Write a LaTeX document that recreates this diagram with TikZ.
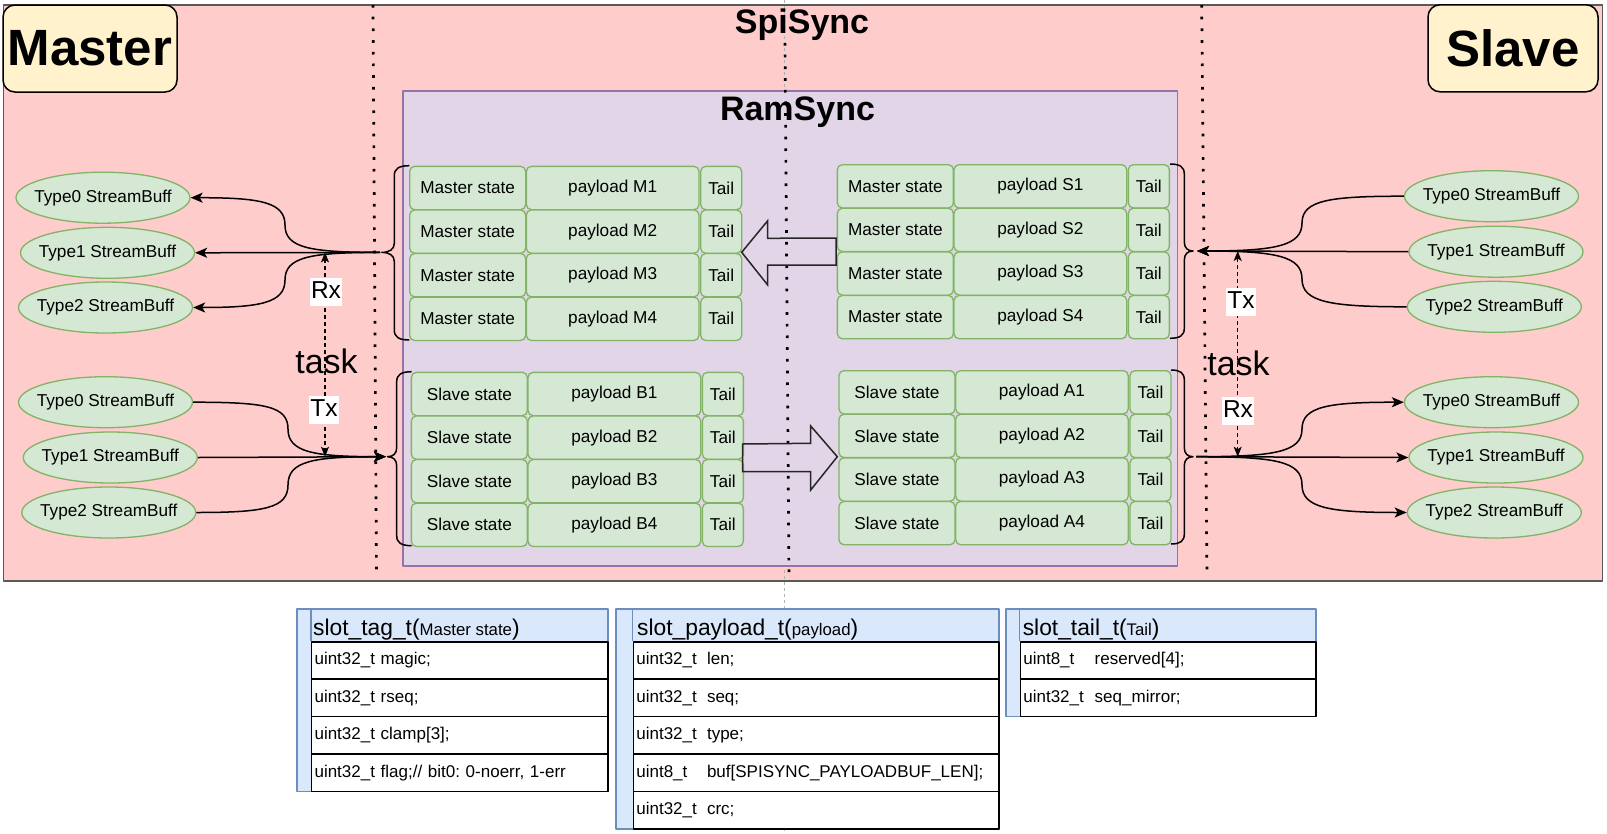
\documentclass[tikz,border=0pt]{standalone}
\usepackage{fontspec}
\setmainfont{Liberation Sans}
\usetikzlibrary{arrows.meta,shapes.geometric}
\frenchspacing
\definecolor{pinkbg}{HTML}{FFCCCC}
\definecolor{pinkbd}{HTML}{595959}
\definecolor{yel}{HTML}{FFF2CC}
\definecolor{purp}{HTML}{E1D5E7}
\definecolor{purpbd}{HTML}{9673A6}
\definecolor{grn}{HTML}{D5E8D4}
\definecolor{grnbd}{HTML}{82B366}
\definecolor{blu}{HTML}{DAE8FC}
\definecolor{blubd}{HTML}{6C8EBF}
\newcommand\myfs[1]{\fontsize{#1pt}{#1pt}\selectfont}
\tikzset{
  cell/.style={draw=grnbd, fill=grn, line width=1.3pt, rounded corners=5pt, minimum height=43.3pt, inner sep=0pt, font=\myfs{17.2}, anchor=north west},
  ell/.style={ellipse, draw=grnbd, fill=grn, line width=1.3pt, minimum width=174pt, minimum height=51pt, inner sep=0pt},
  elltext/.style={font=\myfs{17.2}, inner sep=0pt},
  conn/.style={line width=1.5pt, draw=black},
  arrowend/.style={-{Stealth[length=12pt,width=10pt,inset=3pt]}},
  dotline/.style={line width=2.7pt, dash pattern=on 2.7pt off 9pt},
  bracestyle/.style={line width=1.5pt, draw=black},
  blockarr/.style={draw=black!85, line width=1.5pt, line join=miter},
  hdrbox/.style={draw=black, fill=yel, rounded corners=12pt, line width=1.5pt, font=\bfseries\myfs{51}, inner sep=0pt},
  dashconn/.style={line width=1.3pt, dash pattern=on 4pt off 3pt, {Stealth[length=10pt,width=8pt,inset=2.5pt]}-{Stealth[length=10pt,width=8pt,inset=2.5pt]}},
  lbl/.style={fill=white, inner sep=1.5pt, font=\myfs{24.5}, text height=19pt, text depth=6pt},
  tasklbl/.style={font=\myfs{34}, inner sep=0pt, anchor=base},
  tabframe/.style={draw=blubd, fill=blu, line width=1.5pt, anchor=north west, inner sep=0pt},
  tabrow/.style={draw=black, fill=white, line width=1.5pt, anchor=north west, inner xsep=3pt, inner ysep=0pt, align=left, font=\myfs{17}, minimum height=37.4pt},
  tabhead/.style={anchor=base west, inner sep=0pt, font=\myfs{22.8}}
}
\newcommand\cellgroup[5]{%
  \foreach \i in {1,...,4}{%
    \node[cell, minimum width=116pt] (#1s\i) at (#2, {#3+43.6*(\i-1)}) {#4};
    \node[cell, minimum width=172.6pt] (#1p\i) at ({#2+116.7}, {#3+43.6*(\i-1)}) {payload #5\i};
    \node[cell, minimum width=41pt] (#1t\i) at ({#2+291}, {#3+43.6*(\i-1)}) {Tail};
  }}
% stream buffer ellipse: #1 name, #2 x, #3 y, #4 text
\newcommand\sbuf[4]{%
  \node[ell, label={[elltext]center:#4}] (#1) at (#2,#3) {};}
% brace: #1 xend, #2 xvertical, #3 xtip, #4 ytop, #5 ytip, #6 ybottom
\newcommand\curlybr[6]{%
  \draw[bracestyle] (#1,#4) .. controls ({#2+0.3*(#1-#2)},#4) and (#2,{#4+3}) .. (#2,{#4+10})
    -- (#2,{#5-9}) .. controls (#2,{#5-3}) and ({#2+0.4*(#3-#2)},#5) .. (#3,#5)
    .. controls ({#2+0.4*(#3-#2)},#5) and (#2,{#5+3}) .. (#2,{#5+9})
    -- (#2,{#6-10}) .. controls (#2,{#6-3}) and ({#2+0.3*(#1-#2)},#6) .. (#1,#6);}
\begin{document}
\begin{tikzpicture}[x=1pt,y=-1pt,line join=round]
\useasboundingbox (0,0) rectangle (1607,833);
% background regions
\node[draw=pinkbd, fill=pinkbg, line width=1.5pt, anchor=north west, minimum width=1599pt, minimum height=576pt, inner sep=0pt] (spibox) at (2.7,4) {};
\draw[gray!60, line width=0.8pt, dash pattern=on 3pt off 3pt] (784,0) -- (784,833);
\node[draw=purpbd, fill=purp, line width=1.5pt, anchor=north west, minimum width=774.5pt, minimum height=475pt, inner sep=0pt] (ramsyncbox) at (402,90) {};
% dotted separators
\draw[dotline] (373,5) -- (376.5,578);
\draw[dotline] (785,43) -- (789,580);
\draw[dotline] (1201.7,5) -- (1207,578);
% titles
\node[hdrbox, minimum width=174pt, minimum height=87pt] (master) at (90,48.5) {Master};
\node[hdrbox, minimum width=170pt, minimum height=87pt] (slave) at (1513,48.3) {Slave};
\node[anchor=base, font=\bfseries\myfs{34}, inner sep=0pt] (spisync) at (802,33) {SpiSync};
\node[anchor=base, font=\bfseries\myfs{34}, inner sep=0pt] (ramsync) at (797.5,120) {RamSync};
% slot groups
\cellgroup{lt}{409}{165.7}{Master state}{M}
\cellgroup{lb}{410.7}{371.7}{Slave state}{B}
\cellgroup{rt}{836.7}{164}{Master state}{S}
\cellgroup{rb}{838.3}{370}{Slave state}{A}
% braces
\curlybr{409.3}{394.3}{381.7}{165.7}{252.4}{340}
\curlybr{411.7}{396.7}{387.5}{371.7}{456.7}{545.7}
\curlybr{1170}{1184.3}{1193}{164}{251}{338.3}
\curlybr{1171}{1184.3}{1193}{370}{456.7}{544}
% block arrows
\draw[blockarr] (836,238) -- (767.7,238.3) -- (767.7,220.7) -- (741.7,252.3) -- (767.7,285) -- (767.7,265) -- (836,265) -- cycle;
\draw[blockarr] (742.7,444) -- (810.7,443.3) -- (810.7,426) -- (837.3,456.7) -- (810.7,490) -- (810.7,471.7) -- (742.7,471.7) -- cycle;
% ellipses left
\sbuf{lt0}{103}{197.7}{Type0 StreamBuff}
\sbuf{lt1}{107.5}{252.8}{Type1 StreamBuff}
\sbuf{lt2}{105.5}{307.5}{Type2 StreamBuff}
\sbuf{lb0}{105.5}{402.2}{Type0 StreamBuff}
\sbuf{lb1}{110.3}{457.5}{Type1 StreamBuff}
\sbuf{lb2}{108.8}{512.5}{Type2 StreamBuff}
% ellipses right
\sbuf{rt0}{1491.5}{196.2}{Type0 StreamBuff}
\sbuf{rt1}{1496}{251.7}{Type1 StreamBuff}
\sbuf{rt2}{1494.3}{306.8}{Type2 StreamBuff}
\sbuf{rb0}{1491.5}{402.2}{Type0 StreamBuff}
\sbuf{rb1}{1496}{457.5}{Type1 StreamBuff}
\sbuf{rb2}{1494.3}{512.5}{Type2 StreamBuff}
% connector ends at braces
\coordinate (ltTip) at (380,252.4);
\coordinate (lbTip) at (386,456.7);
\coordinate (rtTip) at (1197,251);
\coordinate (rbTip) at (1196,456.7);
% left top: Rx
\draw[conn,arrowend] (ltTip) -- (lt1.east);
\draw[conn,arrowend] (ltTip) .. controls (310,252.4) and (285,248) .. (285,225) .. controls (285,202) and (260,197.7) .. (lt0.east);
\draw[conn,arrowend] (ltTip) .. controls (310,252.4) and (285,257) .. (285,280) .. controls (285,303) and (260,307.5) .. (lt2.east);
% left bottom: Tx
\draw[conn,arrowend] (lb1.east) -- (lbTip);
\draw[conn,arrowend] (lb0.east) .. controls (265,402.2) and (288,406) .. (288,429) .. controls (288,452) and (313,456.7) .. (lbTip);
\draw[conn,arrowend] (lb2.east) .. controls (265,512.5) and (288,508) .. (288,485) .. controls (288,461) and (313,456.7) .. (lbTip);
% right top: Tx
\draw[conn,arrowend] (rt1.west) -- (rtTip);
\draw[conn,arrowend] (rt0.west) .. controls (1330,196.2) and (1302,200) .. (1302,223) .. controls (1302,246) and (1275,251) .. (rtTip);
\draw[conn,arrowend] (rt2.west) .. controls (1330,306.8) and (1302,302) .. (1302,279) .. controls (1302,256) and (1275,251) .. (rtTip);
% right bottom: Rx
\draw[conn,arrowend] (rbTip) -- (rb1.west);
\draw[conn,arrowend] (rbTip) .. controls (1275,456.7) and (1302,452) .. (1302,429) .. controls (1302,406) and (1330,402.2) .. (rb0.west);
\draw[conn,arrowend] (rbTip) .. controls (1275,456.7) and (1302,461) .. (1302,485) .. controls (1302,508) and (1330,512.5) .. (rb2.west);
% task arrows
\coordinate (ltk1) at (325,252.4);
\coordinate (ltk2) at (325,456.7);
\coordinate (rtk1) at (1237.7,251);
\coordinate (rtk2) at (1237.7,456.7);
\draw[dashconn] (ltk1) -- (ltk2);
\draw[dashconn] (rtk1) -- (rtk2);
\node[lbl] (lrx) at (326,292.3) {Rx};
\node[tasklbl] (ltask) at (326.5,373) {task};
\node[lbl] (ltx) at (324,410) {Tx};
\node[lbl] (rtx) at (1241,301.8) {Tx};
\node[tasklbl] (rtask) at (1238.5,375) {task};
\node[lbl] (rrx) at (1238,410.7) {Rx};
% table 1
\node[tabframe, minimum width=311pt, minimum height=182.4pt] (tab1) at (296,608.3) {};
\draw[blubd, line width=1.5pt] (310.8,608.3) -- (310.8,641);
\node[tabhead] (tab1h) at (313,635) {slot\_tag\_t({\myfs{16.8}Master state})};
\node[tabrow, text width=290.2pt] (t1r1) at (310.8,641) {uint32\_t magic;};
\node[tabrow, text width=290.2pt] (t1r2) at (310.8,678.4) {uint32\_t rseq;};
\node[tabrow, text width=290.2pt] (t1r3) at (310.8,715.8) {uint32\_t clamp[3];};
\node[tabrow, text width=290.2pt] (t1r4) at (310.8,753.2) {uint32\_t flag;// bit0: 0-noerr, 1-err};
% table 2
\node[tabframe, minimum width=383pt, minimum height=220pt] (tab2) at (615,608.3) {};
\draw[blubd, line width=1.5pt] (632.6,608.3) -- (632.6,641);
\node[tabhead] (tab2h) at (637,635) {slot\_payload\_t({\myfs{16.8}payload})};
\node[tabrow, text width=359.4pt] (t2r1) at (632.6,641) {\makebox[70.7pt][l]{uint32\_t}len;};
\node[tabrow, text width=359.4pt] (t2r2) at (632.6,678.4) {\makebox[70.7pt][l]{uint32\_t}seq;};
\node[tabrow, text width=359.4pt] (t2r3) at (632.6,715.8) {\makebox[70.7pt][l]{uint32\_t}type;};
\node[tabrow, text width=359.4pt] (t2r4) at (632.6,753.2) {\makebox[70.7pt][l]{uint8\_t}buf[SPISYNC\_PAYLOADBUF\_LEN];};
\node[tabrow, text width=359.4pt] (t2r5) at (632.6,790.6) {\makebox[70.7pt][l]{uint32\_t}crc;};
% table 3
\node[tabframe, minimum width=310pt, minimum height=107.4pt] (tab3) at (1005,608.3) {};
\draw[blubd, line width=1.5pt] (1019.6,608.3) -- (1019.6,641);
\node[tabhead] (tab3h) at (1022.6,635) {slot\_tail\_t({\myfs{16.8}Tail})};
\node[tabrow, text width=289.4pt] (t3r1) at (1019.6,641) {\makebox[71.4pt][l]{uint8\_t}reserved[4];};
\node[tabrow, text width=289.4pt] (t3r2) at (1019.6,678.4) {\makebox[71.4pt][l]{uint32\_t}seq\_mirror;};
\end{tikzpicture}
\end{document}
